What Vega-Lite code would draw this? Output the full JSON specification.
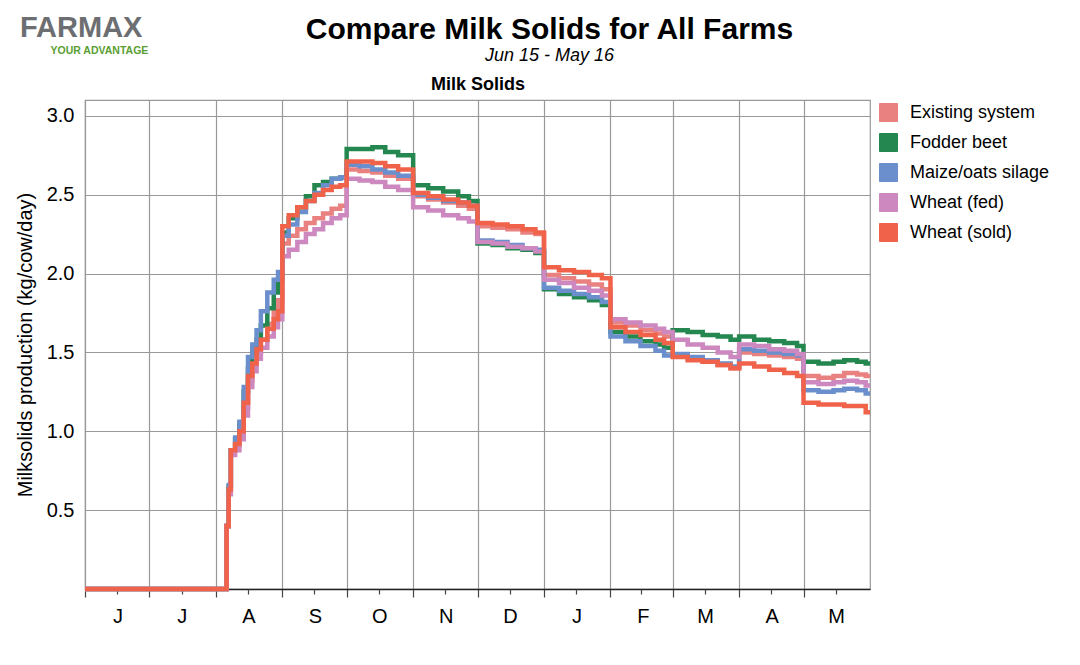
{
  "$schema": "https://vega.github.io/schema/vega-lite/v6.json",
  "width": 785,
  "height": 489,
  "autosize": "none",
  "padding": {"left": 85, "top": 100, "right": 210, "bottom": 76},
  "background": "white",
  "title": {
    "text": "Compare Milk Solids for All Farms",
    "subtitle": "Jun 15 - May 16",
    "anchor": "middle",
    "frame": "group",
    "dx": 72,
    "fontSize": 30,
    "fontWeight": "bold",
    "color": "#000",
    "font": "Liberation Sans",
    "subtitleFont": "Liberation Sans",
    "subtitleFontSize": 18,
    "subtitleFontStyle": "italic",
    "subtitleColor": "#000",
    "subtitlePadding": 2,
    "offset": -51
  },
  "config": {
    "font": "Liberation Sans",
    "view": {"stroke": "#999", "strokeWidth": 1.2},
    "axis": {"labelFont": "Liberation Sans", "titleFont": "Liberation Sans", "labelColor": "#000", "titleColor": "#000"},
    "legend": {"labelFont": "Liberation Sans", "titleFont": "Liberation Sans"}
  },
  "data": {
    "values": [
      {"d": "2015-06-01", "Existing system": 0, "Fodder beet": 0, "Maize/oats silage": 0, "Wheat (fed)": 0, "Wheat (sold)": 0},
      {"d": "2015-08-06", "Existing system": 0.40, "Fodder beet": 0.40, "Maize/oats silage": 0.40, "Wheat (fed)": 0.40, "Wheat (sold)": 0.40},
      {"d": "2015-08-07", "Existing system": 0.63, "Fodder beet": 0.65, "Maize/oats silage": 0.66, "Wheat (fed)": 0.60, "Wheat (sold)": 0.63},
      {"d": "2015-08-08", "Existing system": 0.88, "Fodder beet": 0.88, "Maize/oats silage": 0.88, "Wheat (fed)": 0.85, "Wheat (sold)": 0.88},
      {"d": "2015-08-10", "Existing system": 0.92, "Fodder beet": 0.95, "Maize/oats silage": 0.96, "Wheat (fed)": 0.88, "Wheat (sold)": 0.92},
      {"d": "2015-08-12", "Existing system": 1.00, "Fodder beet": 1.05, "Maize/oats silage": 1.06, "Wheat (fed)": 0.95, "Wheat (sold)": 1.00},
      {"d": "2015-08-14", "Existing system": 1.15, "Fodder beet": 1.25, "Maize/oats silage": 1.28, "Wheat (fed)": 1.10, "Wheat (sold)": 1.18},
      {"d": "2015-08-16", "Existing system": 1.32, "Fodder beet": 1.40, "Maize/oats silage": 1.47, "Wheat (fed)": 1.28, "Wheat (sold)": 1.35},
      {"d": "2015-08-18", "Existing system": 1.42, "Fodder beet": 1.50, "Maize/oats silage": 1.55, "Wheat (fed)": 1.38, "Wheat (sold)": 1.43},
      {"d": "2015-08-20", "Existing system": 1.50, "Fodder beet": 1.58, "Maize/oats silage": 1.64, "Wheat (fed)": 1.46, "Wheat (sold)": 1.52},
      {"d": "2015-08-22", "Existing system": 1.58, "Fodder beet": 1.67, "Maize/oats silage": 1.76, "Wheat (fed)": 1.53, "Wheat (sold)": 1.58},
      {"d": "2015-08-25", "Existing system": 1.68, "Fodder beet": 1.78, "Maize/oats silage": 1.88, "Wheat (fed)": 1.60, "Wheat (sold)": 1.65},
      {"d": "2015-08-28", "Existing system": 1.77, "Fodder beet": 1.88, "Maize/oats silage": 1.96, "Wheat (fed)": 1.66, "Wheat (sold)": 1.71},
      {"d": "2015-08-30", "Existing system": 1.83, "Fodder beet": 1.96, "Maize/oats silage": 2.01, "Wheat (fed)": 1.71, "Wheat (sold)": 1.76},
      {"d": "2015-09-01", "Existing system": 2.19, "Fodder beet": 2.26, "Maize/oats silage": 2.24, "Wheat (fed)": 2.11, "Wheat (sold)": 2.30},
      {"d": "2015-09-04", "Existing system": 2.24, "Fodder beet": 2.35, "Maize/oats silage": 2.31, "Wheat (fed)": 2.15, "Wheat (sold)": 2.37},
      {"d": "2015-09-08", "Existing system": 2.28, "Fodder beet": 2.42, "Maize/oats silage": 2.39, "Wheat (fed)": 2.20, "Wheat (sold)": 2.42},
      {"d": "2015-09-12", "Existing system": 2.32, "Fodder beet": 2.49, "Maize/oats silage": 2.46, "Wheat (fed)": 2.25, "Wheat (sold)": 2.46},
      {"d": "2015-09-16", "Existing system": 2.35, "Fodder beet": 2.56, "Maize/oats silage": 2.51, "Wheat (fed)": 2.28, "Wheat (sold)": 2.50},
      {"d": "2015-09-20", "Existing system": 2.38, "Fodder beet": 2.58, "Maize/oats silage": 2.56, "Wheat (fed)": 2.32, "Wheat (sold)": 2.53},
      {"d": "2015-09-24", "Existing system": 2.41, "Fodder beet": 2.60, "Maize/oats silage": 2.60, "Wheat (fed)": 2.35, "Wheat (sold)": 2.55},
      {"d": "2015-09-28", "Existing system": 2.43, "Fodder beet": 2.61, "Maize/oats silage": 2.61, "Wheat (fed)": 2.37, "Wheat (sold)": 2.56},
      {"d": "2015-10-01", "Existing system": 2.66, "Fodder beet": 2.79, "Maize/oats silage": 2.69, "Wheat (fed)": 2.60, "Wheat (sold)": 2.71},
      {"d": "2015-10-07", "Existing system": 2.65, "Fodder beet": 2.79, "Maize/oats silage": 2.68, "Wheat (fed)": 2.59, "Wheat (sold)": 2.71},
      {"d": "2015-10-13", "Existing system": 2.64, "Fodder beet": 2.80, "Maize/oats silage": 2.66, "Wheat (fed)": 2.58, "Wheat (sold)": 2.70},
      {"d": "2015-10-19", "Existing system": 2.62, "Fodder beet": 2.77, "Maize/oats silage": 2.64, "Wheat (fed)": 2.55, "Wheat (sold)": 2.68},
      {"d": "2015-10-25", "Existing system": 2.60, "Fodder beet": 2.75, "Maize/oats silage": 2.62, "Wheat (fed)": 2.53, "Wheat (sold)": 2.66},
      {"d": "2015-11-01", "Existing system": 2.49, "Fodder beet": 2.56, "Maize/oats silage": 2.50, "Wheat (fed)": 2.42, "Wheat (sold)": 2.51},
      {"d": "2015-11-08", "Existing system": 2.47, "Fodder beet": 2.54, "Maize/oats silage": 2.48, "Wheat (fed)": 2.40, "Wheat (sold)": 2.49},
      {"d": "2015-11-15", "Existing system": 2.45, "Fodder beet": 2.52, "Maize/oats silage": 2.46, "Wheat (fed)": 2.37, "Wheat (sold)": 2.47},
      {"d": "2015-11-22", "Existing system": 2.43, "Fodder beet": 2.49, "Maize/oats silage": 2.45, "Wheat (fed)": 2.35, "Wheat (sold)": 2.45},
      {"d": "2015-11-27", "Existing system": 2.41, "Fodder beet": 2.46, "Maize/oats silage": 2.43, "Wheat (fed)": 2.33, "Wheat (sold)": 2.43},
      {"d": "2015-12-01", "Existing system": 2.30, "Fodder beet": 2.19, "Maize/oats silage": 2.21, "Wheat (fed)": 2.20, "Wheat (sold)": 2.32},
      {"d": "2015-12-08", "Existing system": 2.29, "Fodder beet": 2.18, "Maize/oats silage": 2.20, "Wheat (fed)": 2.19, "Wheat (sold)": 2.31},
      {"d": "2015-12-15", "Existing system": 2.28, "Fodder beet": 2.16, "Maize/oats silage": 2.18, "Wheat (fed)": 2.17, "Wheat (sold)": 2.30},
      {"d": "2015-12-22", "Existing system": 2.26, "Fodder beet": 2.15, "Maize/oats silage": 2.16, "Wheat (fed)": 2.16, "Wheat (sold)": 2.28},
      {"d": "2015-12-28", "Existing system": 2.25, "Fodder beet": 2.13, "Maize/oats silage": 2.15, "Wheat (fed)": 2.14, "Wheat (sold)": 2.26},
      {"d": "2016-01-01", "Existing system": 1.99, "Fodder beet": 1.90, "Maize/oats silage": 1.91, "Wheat (fed)": 1.96, "Wheat (sold)": 2.04},
      {"d": "2016-01-08", "Existing system": 1.97, "Fodder beet": 1.87, "Maize/oats silage": 1.89, "Wheat (fed)": 1.94, "Wheat (sold)": 2.02},
      {"d": "2016-01-15", "Existing system": 1.95, "Fodder beet": 1.85, "Maize/oats silage": 1.87, "Wheat (fed)": 1.91, "Wheat (sold)": 2.01},
      {"d": "2016-01-22", "Existing system": 1.93, "Fodder beet": 1.83, "Maize/oats silage": 1.85, "Wheat (fed)": 1.89, "Wheat (sold)": 1.99},
      {"d": "2016-01-28", "Existing system": 1.90, "Fodder beet": 1.80, "Maize/oats silage": 1.82, "Wheat (fed)": 1.86, "Wheat (sold)": 1.97},
      {"d": "2016-02-01", "Existing system": 1.69, "Fodder beet": 1.63, "Maize/oats silage": 1.60, "Wheat (fed)": 1.71, "Wheat (sold)": 1.66},
      {"d": "2016-02-08", "Existing system": 1.67, "Fodder beet": 1.60, "Maize/oats silage": 1.57, "Wheat (fed)": 1.69, "Wheat (sold)": 1.63},
      {"d": "2016-02-15", "Existing system": 1.64, "Fodder beet": 1.57, "Maize/oats silage": 1.54, "Wheat (fed)": 1.67, "Wheat (sold)": 1.61},
      {"d": "2016-02-22", "Existing system": 1.62, "Fodder beet": 1.55, "Maize/oats silage": 1.51, "Wheat (fed)": 1.65, "Wheat (sold)": 1.58},
      {"d": "2016-02-26", "Existing system": 1.60, "Fodder beet": 1.53, "Maize/oats silage": 1.48, "Wheat (fed)": 1.63, "Wheat (sold)": 1.56},
      {"d": "2016-03-01", "Existing system": 1.48, "Fodder beet": 1.64, "Maize/oats silage": 1.49, "Wheat (fed)": 1.58, "Wheat (sold)": 1.47},
      {"d": "2016-03-08", "Existing system": 1.46, "Fodder beet": 1.63, "Maize/oats silage": 1.47, "Wheat (fed)": 1.55, "Wheat (sold)": 1.45},
      {"d": "2016-03-15", "Existing system": 1.44, "Fodder beet": 1.61, "Maize/oats silage": 1.45, "Wheat (fed)": 1.53, "Wheat (sold)": 1.44},
      {"d": "2016-03-22", "Existing system": 1.42, "Fodder beet": 1.60, "Maize/oats silage": 1.43, "Wheat (fed)": 1.50, "Wheat (sold)": 1.42},
      {"d": "2016-03-28", "Existing system": 1.40, "Fodder beet": 1.58, "Maize/oats silage": 1.41, "Wheat (fed)": 1.47, "Wheat (sold)": 1.40},
      {"d": "2016-04-01", "Existing system": 1.50, "Fodder beet": 1.60, "Maize/oats silage": 1.52, "Wheat (fed)": 1.55, "Wheat (sold)": 1.43},
      {"d": "2016-04-08", "Existing system": 1.49, "Fodder beet": 1.58, "Maize/oats silage": 1.51, "Wheat (fed)": 1.54, "Wheat (sold)": 1.41},
      {"d": "2016-04-15", "Existing system": 1.48, "Fodder beet": 1.57, "Maize/oats silage": 1.50, "Wheat (fed)": 1.52, "Wheat (sold)": 1.39},
      {"d": "2016-04-22", "Existing system": 1.47, "Fodder beet": 1.56, "Maize/oats silage": 1.49, "Wheat (fed)": 1.51, "Wheat (sold)": 1.37},
      {"d": "2016-04-28", "Existing system": 1.46, "Fodder beet": 1.54, "Maize/oats silage": 1.48, "Wheat (fed)": 1.49, "Wheat (sold)": 1.35},
      {"d": "2016-05-01", "Existing system": 1.35, "Fodder beet": 1.44, "Maize/oats silage": 1.26, "Wheat (fed)": 1.31, "Wheat (sold)": 1.18},
      {"d": "2016-05-08", "Existing system": 1.34, "Fodder beet": 1.43, "Maize/oats silage": 1.25, "Wheat (fed)": 1.30, "Wheat (sold)": 1.17},
      {"d": "2016-05-15", "Existing system": 1.35, "Fodder beet": 1.44, "Maize/oats silage": 1.26, "Wheat (fed)": 1.31, "Wheat (sold)": 1.17},
      {"d": "2016-05-20", "Existing system": 1.37, "Fodder beet": 1.45, "Maize/oats silage": 1.27, "Wheat (fed)": 1.32, "Wheat (sold)": 1.16},
      {"d": "2016-05-26", "Existing system": 1.36, "Fodder beet": 1.44, "Maize/oats silage": 1.26, "Wheat (fed)": 1.31, "Wheat (sold)": 1.16},
      {"d": "2016-05-30", "Existing system": 1.35, "Fodder beet": 1.43, "Maize/oats silage": 1.24, "Wheat (fed)": 1.29, "Wheat (sold)": 1.12},
      {"d": "2016-06-01", "Existing system": 1.35, "Fodder beet": 1.43, "Maize/oats silage": 1.24, "Wheat (fed)": 1.29, "Wheat (sold)": 1.12}
    ]
  },
  "layer": [
    {
      "transform": [{"fold": ["Existing system", "Fodder beet", "Maize/oats silage", "Wheat (fed)", "Wheat (sold)"], "as": ["s", "v"]}],
      "mark": {"type": "line", "interpolate": "step-after", "strokeWidth": 4.5},
      "encoding": {
        "x": {
          "field": "d",
          "type": "temporal",
          "scale": {"type": "utc", "domain": [{"year": 2015, "month": 6, "date": 1, "utc": true}, {"year": 2016, "month": 6, "date": 1, "utc": true}]},
          "axis": {
            "orient": "bottom",
            "title": null,
            "values": [
              {"year": 2015, "month": 6, "date": 1, "utc": true},
              {"year": 2015, "month": 7, "date": 1, "utc": true},
              {"year": 2015, "month": 8, "date": 1, "utc": true},
              {"year": 2015, "month": 9, "date": 1, "utc": true},
              {"year": 2015, "month": 10, "date": 1, "utc": true},
              {"year": 2015, "month": 11, "date": 1, "utc": true},
              {"year": 2015, "month": 12, "date": 1, "utc": true},
              {"year": 2016, "month": 1, "date": 1, "utc": true},
              {"year": 2016, "month": 2, "date": 1, "utc": true},
              {"year": 2016, "month": 3, "date": 1, "utc": true},
              {"year": 2016, "month": 4, "date": 1, "utc": true},
              {"year": 2016, "month": 5, "date": 1, "utc": true}
            ],
            "grid": true,
            "gridColor": "#999",
            "gridWidth": 1.2,
            "tickSize": 8,
            "tickColor": "#444",
            "tickWidth": 1.2,
            "domainColor": "#222",
            "domainWidth": 1.5,
            "labelExpr": "substring(utcFormat(datum.value, '%b'), 0, 1)",
            "labelOffset": 32.5,
            "labelPadding": 9,
            "labelFontSize": 20,
            "labelAlign": "center",
            "labelBaseline": "top",
            "labelFlush": false,
            "labelOverlap": false
          }
        },
        "y": {
          "field": "v",
          "type": "quantitative",
          "scale": {"domain": [0, 3.1], "nice": false, "zero": true},
          "axis": {
            "values": [0.5, 1, 1.5, 2, 2.5, 3],
            "format": ".1f",
            "grid": true,
            "gridColor": "#999",
            "gridWidth": 1.2,
            "ticks": false,
            "domain": false,
            "labelFontSize": 20,
            "labelPadding": 11,
            "title": "Milksolids production (kg/cow/day)",
            "titleFontSize": 20,
            "titleFontWeight": "normal",
            "titlePadding": 11
          }
        },
        "color": {
          "field": "s",
          "type": "nominal",
          "scale": {
            "domain": ["Existing system", "Fodder beet", "Maize/oats silage", "Wheat (fed)", "Wheat (sold)"],
            "range": ["#E8817F", "#23874F", "#6A8FCC", "#CC88BF", "#F0634A"]
          },
          "legend": {
            "title": null,
            "orient": "none",
            "legendX": 794,
            "legendY": 3,
            "padding": 0,
            "symbolType": "square",
            "symbolSize": 324,
            "symbolStrokeWidth": 1,
            "labelFontSize": 18,
            "labelColor": "#000",
            "labelOffset": 12,
            "rowPadding": 7,
            "encode": {
              "symbols": {
                "update": {
                  "fill": {"scale": "color", "field": "value"},
                  "stroke": {"value": "#333"},
                  "strokeWidth": {"value": 1},
                  "opacity": {"value": 1},
                  "fillOpacity": {"value": 1}
                }
              }
            }
          }
        }
      }
    },
    {
      "transform": [{"fold": ["Existing system", "Fodder beet", "Maize/oats silage", "Wheat (fed)", "Wheat (sold)"], "as": ["s", "v"]}],
      "mark": {"type": "rule", "strokeOpacity": 0},
      "encoding": {
        "x": {
          "field": "d",
          "type": "temporal",
          "axis": {
            "orient": "bottom",
            "title": null,
            "values": [
              {"year": 2015, "month": 6, "date": 16, "utc": true},
              {"year": 2015, "month": 7, "date": 16, "utc": true},
              {"year": 2015, "month": 8, "date": 16, "utc": true},
              {"year": 2015, "month": 9, "date": 16, "utc": true},
              {"year": 2015, "month": 10, "date": 16, "utc": true},
              {"year": 2015, "month": 11, "date": 16, "utc": true},
              {"year": 2015, "month": 12, "date": 16, "utc": true},
              {"year": 2016, "month": 1, "date": 16, "utc": true},
              {"year": 2016, "month": 2, "date": 15, "utc": true},
              {"year": 2016, "month": 3, "date": 16, "utc": true},
              {"year": 2016, "month": 4, "date": 16, "utc": true},
              {"year": 2016, "month": 5, "date": 16, "utc": true}
            ],
            "grid": false,
            "labels": false,
            "domain": false,
            "tickSize": 5,
            "tickColor": "#444",
            "tickWidth": 1.2
          }
        }
      }
    },
    {
      "transform": [{"fold": ["Existing system", "Fodder beet", "Maize/oats silage", "Wheat (fed)", "Wheat (sold)"], "as": ["s", "v"]}],
      "mark": {"type": "rule", "strokeOpacity": 0},
      "encoding": {
        "x": {
          "field": "d",
          "type": "temporal",
          "axis": {
            "orient": "top",
            "title": "Milk Solids",
            "labels": false,
            "ticks": false,
            "domain": false,
            "grid": false,
            "titleFontSize": 18,
            "titleFontWeight": "bold",
            "titlePadding": 7
          }
        }
      }
    },
    {
      "data": {"values": [{"b": "YOUR ADVANTAGE"}]},
      "mark": {"type": "point", "opacity": 0},
      "encoding": {
        "shape": {
          "field": "b",
          "type": "nominal",
          "legend": {
            "title": "FARMAX",
            "orient": "none",
            "legendX": -65,
            "legendY": -86,
            "padding": 0,
            "titleFontSize": 29,
            "titleFontWeight": 900,
            "titleColor": "#6d6e71",
            "titlePadding": 3,
            "labelFontSize": 10.5,
            "labelFontWeight": "bold",
            "labelColor": "#5a9e32",
            "symbolSize": 0,
            "symbolOpacity": 0,
            "symbolStrokeWidth": 0,
            "labelOffset": 20
          }
        }
      }
    }
  ],
  "resolve": {"axis": {"x": "independent"}}
}
